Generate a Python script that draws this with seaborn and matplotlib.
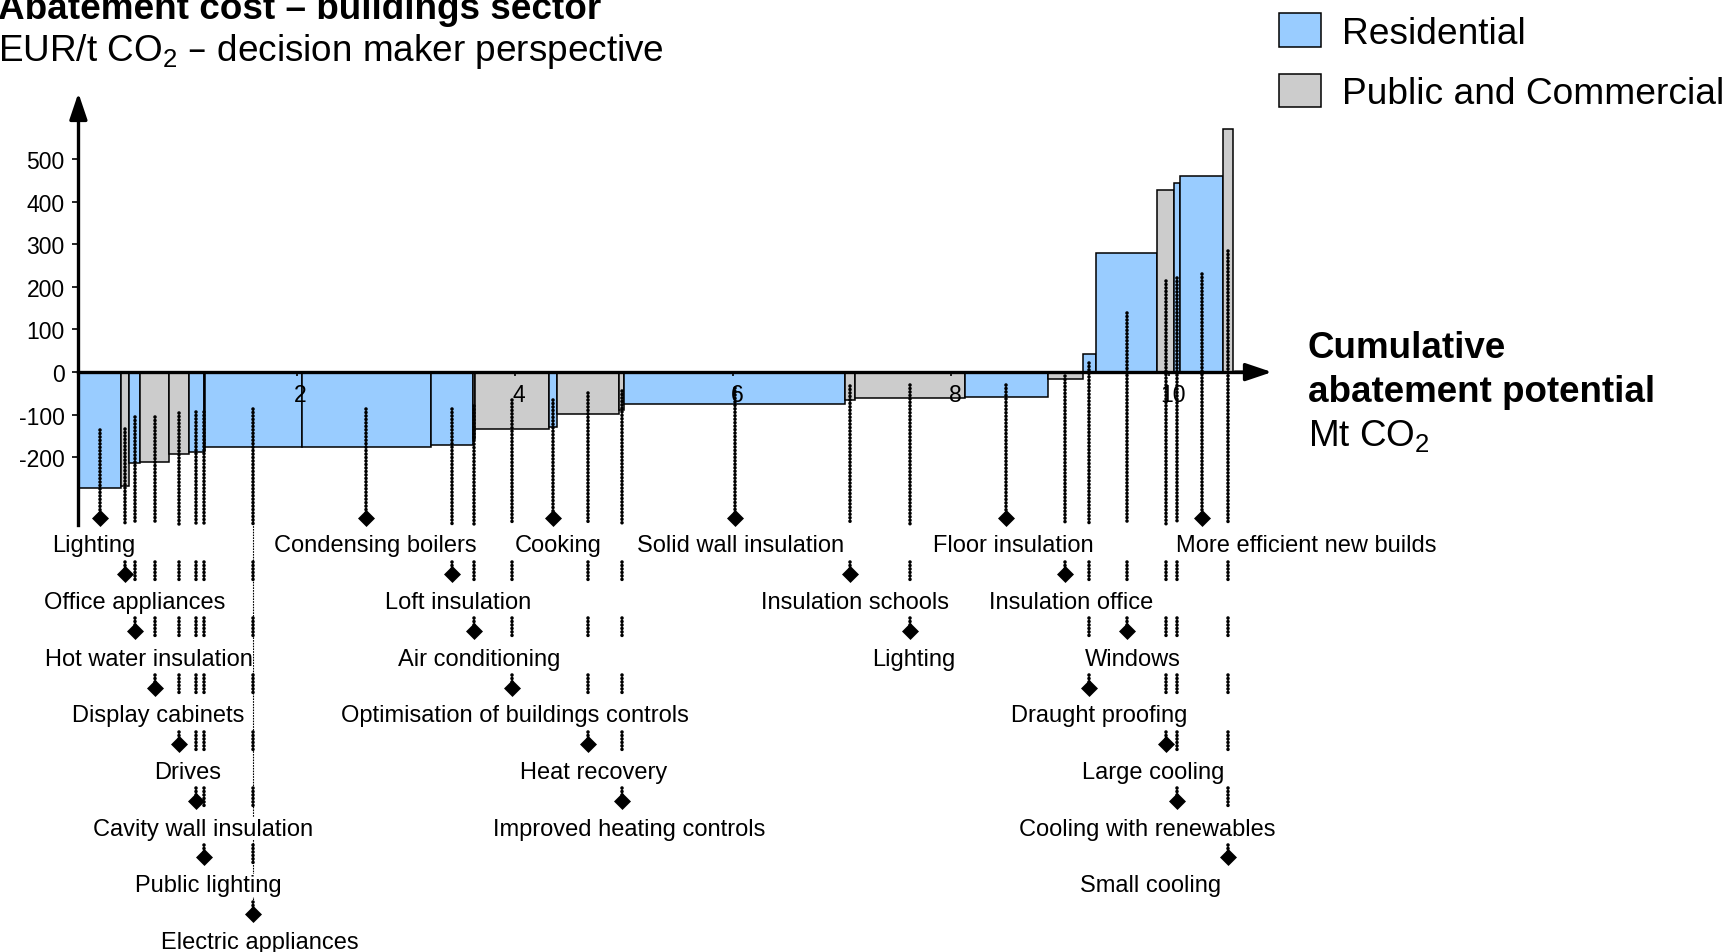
import numpy as np
import pandas as pd
import matplotlib
matplotlib.use("Agg")
import matplotlib.pyplot as plt
import seaborn as sns
from matplotlib.patches import Patch
from matplotlib.transforms import ScaledTranslation

# ---------------- data ----------------
measures = ["Lighting", "Office appliances", "Hot water insulation", "Display cabinets", "Drives",
            "Cavity wall insulation", "Public lighting", "Electric appliances", "Condensing boilers",
            "Loft insulation", "Air conditioning", "Optimisation of buildings controls", "Cooking",
            "Heat recovery", "Improved heating controls", "Solid wall insulation", "Insulation schools",
            "Lighting", "Floor insulation", "Insulation office", "Draught proofing", "Windows",
            "Large cooling", "Cooling with renewables", "More efficient new builds", "Small cooling"]
sectors = ["R", "P", "R", "P", "P", "R", "P", "R", "R", "R", "P", "P", "R",
           "P", "P", "R", "P", "P", "R", "P", "R", "R", "P", "R", "R", "P"]
potential = [0.387, 0.078, 0.102, 0.268, 0.177, 0.136, 0.014, 0.883, 1.187, 0.386, 0.014, 0.678, 0.075,
             0.570, 0.050, 2.025, 0.090, 1.005, 0.760, 0.320, 0.125, 0.560, 0.150, 0.060, 0.390, 0.090]
cost = [-272, -268, -213, -210, -192, -188, -186, -175, -175, -171, -158, -133, -130,
        -98, -88, -74, -65, -60, -59, -16, 43, 279, 427, 444, 460, 570]
sector_names = {"R": "Residential", "P": "Public and Commercial"}
y_ticks = [-200, -100, 0, 100, 200, 300, 400, 500]
y_tick_labels = ["-200", "-100", "0", "100", "200", "300", "400", "500"]
x_ticks = [2, 4, 6, 8, 10]
x_tick_labels = ["2", "4", "6", "8", "10"]

# ---------------- layout ----------------
label_row = [1, 2, 3, 4, 5, 6, 7, 8, 1, 2, 3, 4, 1, 5, 6, 1, 2, 3, 1, 2, 4, 3, 5, 6, 1, 7]
label_x = [0.137, 0.516, 0.643, 0.734, 1.002, 1.144, 1.194, 1.665, 2.718, 3.482, 3.674, 3.998, 4.398,
           4.727, 5.05, 6.068, 7.12, 7.66, 8.568, 9.10, 9.352, 9.666, 9.848, 9.80, 11.25, 9.823]
palette = {"R": "#99CCFF", "P": "#CCCCCC"}

W, H = 1731, 953
X0, XS = 78.4, 109.1      # px of x=0, px per Mt
Y0, YS = 373.1, 0.4261    # px (from top) of y=0, px per EUR

ROW1, ROW_STEP = -398.7, 132.9
DIAM_OFF, SEG_START_OFF, PASS_END_OFF = 57.0, 46.6, 41.5
TEXT_SHIFT = -8.0

sns.set_theme(style="white")
plt.rcParams["font.family"] = ["Liberation Sans", "DejaVu Sans"]
plt.rcParams["axes.unicode_minus"] = False
plt.rcParams["text.color"] = "black"
plt.rcParams["xtick.color"] = "black"
plt.rcParams["ytick.color"] = "black"
plt.rcParams["axes.labelcolor"] = "black"

fig = plt.figure(figsize=(W / 100, H / 100), dpi=100)
ax = fig.add_axes([0, 0, 1, 1])
ax.set_facecolor("white")
ax.set_axisbelow(False)

left = np.concatenate([[0.0], np.cumsum(potential)[:-1]])
mid = left + np.array(potential) / 2
ax.bar(left, cost, width=potential, align="edge",
       color=[palette[s] for s in sectors], edgecolor="black", linewidth=1.1, zorder=1)


def row_y(k):
    return ROW1 - ROW_STEP * (k - 1)


dot_style = dict(color="black", lw=2.6, linestyle=(0, (0.01, 0.95)), dash_capstyle="round",
                 solid_capstyle="round", zorder=3.5)

for i in range(len(measures)):
    r = label_row[i]
    xm = mid[i]
    top = cost[i] / 2.0
    end = row_y(1) + (DIAM_OFF if r == 1 else PASS_END_OFF)
    ax.plot([xm, xm], [top, end], **dot_style)
    for k in range(2, r + 1):
        start = row_y(k - 1) - SEG_START_OFF
        end = row_y(k) + (DIAM_OFF if k == r else PASS_END_OFF)
        ax.plot([xm, xm], [start, end], **dot_style)
    if measures[i] == "Electric appliances":
        ax.plot([xm, xm], [top, row_y(r) + DIAM_OFF], color="black", lw=0.8,
                linestyle=(0, (1.5, 1.0)), zorder=2.2)
    ax.text(label_x[i], row_y(r) + TEXT_SHIFT, measures[i], ha="center", va="center", fontsize=17,
            color="black", zorder=3,
            bbox=dict(facecolor="white", edgecolor="none", pad=0.3))

diam_df = pd.DataFrame({"x": mid, "y": [row_y(r) + DIAM_OFF for r in label_row]})
sns.scatterplot(data=diam_df, x="x", y="y", marker="D", s=75, color="black",
                edgecolor="black", linewidth=0, ax=ax, zorder=4, legend=False)

# ---------------- axes ----------------
ax.set_xlim(-X0 / XS, (W - X0) / XS)
ax.set_ylim(-(H - Y0) / YS, Y0 / YS)
ax.set_xlabel("")
ax.set_ylabel("")

for s in ["top", "right"]:
    ax.spines[s].set_visible(False)
ax.spines["left"].set_position(("data", 0))
ax.spines["bottom"].set_position(("data", 0))
ax.spines["left"].set_bounds(-358, 630)
ax.spines["bottom"].set_bounds(0, 10.75)
for s in ["left", "bottom"]:
    ax.spines[s].set_color("black")
    ax.spines[s].set_linewidth(2.4)
    ax.spines[s].set_zorder(3.6)

arrow = dict(arrowstyle="-|>,head_length=0.8,head_width=0.27", color="black", lw=2.4,
             mutation_scale=20, shrinkA=0, shrinkB=0)
ax.annotate("", xy=(0, 655), xytext=(0, 600), arrowprops=arrow, zorder=3.6)
ax.annotate("", xy=(10.94, 0), xytext=(10.6, 0), arrowprops=arrow, zorder=3.6)

ax.set_yticks(y_ticks)
ax.set_yticklabels(y_tick_labels)
ax.set_xticks(x_ticks)
ax.set_xticklabels(x_tick_labels)
ax.tick_params(axis="y", direction="out", length=4, width=1.2, pad=6, labelsize=16.5,
               left=True, colors="black")
ax.tick_params(axis="x", direction="out", length=3, width=1.2, pad=5, labelsize=16.5,
               bottom=True, colors="black")
ax.xaxis.set_zorder(1.5)
ax.yaxis.set_zorder(1.5)
for lab in ax.get_xticklabels():
    lab.set_transform(lab.get_transform() + ScaledTranslation(4 / 100, 0, fig.dpi_scale_trans))
ax.grid(False)


def fx(px):
    return px / W


def fy(py):
    return 1 - py / H


fig.text(fx(-2), fy(19), "Abatement cost – buildings sector", fontsize=26.6, weight="bold",
         ha="left", va="baseline")
fig.text(fx(-2), fy(61), "EUR/t CO$_\\mathregular{2}$ – decision maker perspective", fontsize=26.6,
         ha="left", va="baseline")
fig.text(fx(1308), fy(348), "Cumulative", fontsize=26.5, weight="bold", ha="left", va="center")
fig.text(fx(1308), fy(393), "abatement potential", fontsize=26.5, weight="bold", ha="left", va="center")
fig.text(fx(1308), fy(437), "Mt CO$_\\mathregular{2}$", fontsize=26.5, ha="left", va="center")

handles = [Patch(facecolor=palette[k], edgecolor="black", linewidth=1.1, label=sector_names[k])
           for k in ["R", "P"]]
ax.legend(handles=handles, loc="upper left", bbox_to_anchor=(fx(1279), fy(14)),
          bbox_transform=fig.transFigure, frameon=False, fontsize=26.7, handlelength=1.13,
          handleheight=1.02, handletextpad=0.58, labelspacing=0.62, borderpad=0, borderaxespad=0)

fig.savefig("out.png", dpi=100)
